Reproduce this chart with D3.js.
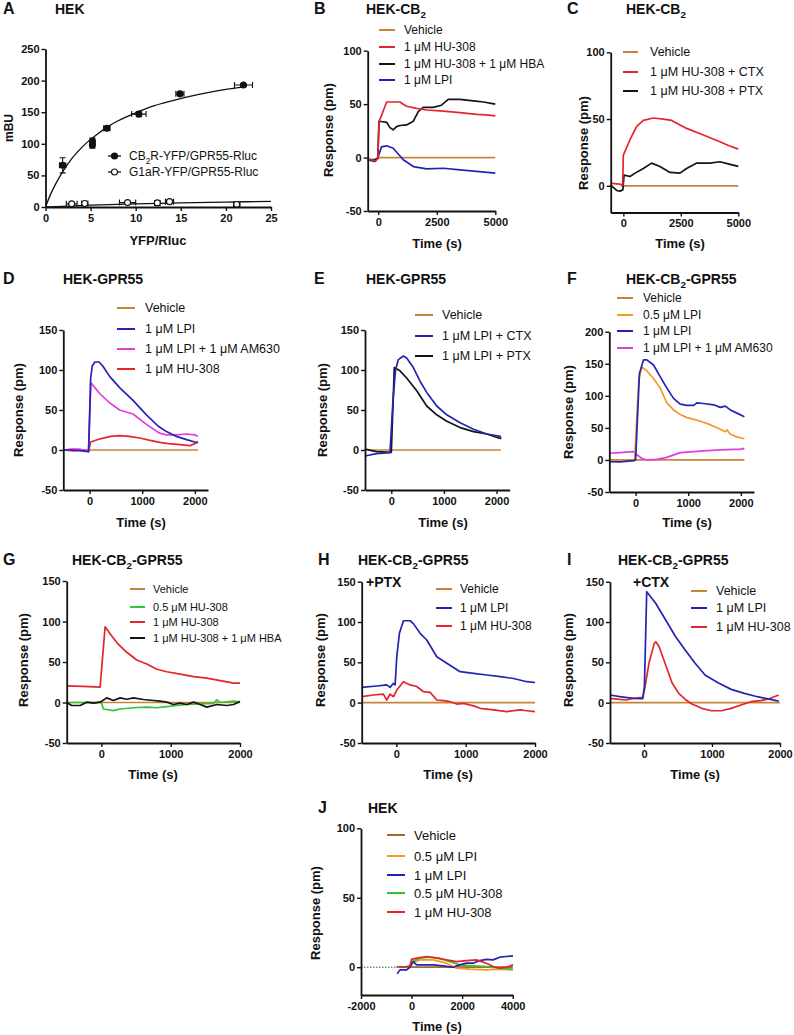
<!DOCTYPE html>
<html><head><meta charset="utf-8">
<script src="https://cdn.jsdelivr.net/npm/d3@7"></script>
<style>body{margin:0;background:#fff} svg{font-family:"Liberation Sans",Arial,sans-serif}</style>
</head><body><svg id="c" width="794" height="1035"></svg>
<script>
// ---------- Panel A data ----------
const aCbX = [1.9, 5.2, 5.2, 6.8, 10.35, 14.9, 21.95];
const aCbY = [66, 104, 98, 124.5, 147, 179, 193];
const aCbXerr = [0.35, 0.25, 0.25, 0.35, 0.8, 0.45, 1.0];
const aCbYerr = [12, 5, 5, 3, 4, 3, 2];
const aG1X = [2.9, 4.35, 9.1, 12.4, 13.75, 21.2];
const aG1Y = [5, 5.5, 7, 6.5, 8.5, 4];
const aG1Xerr = [0.6, 0.35, 0.9, 0.3, 0.45, 0.35];
const aG1Yerr = [1.5, 1.5, 1.5, 1.5, 3, 1.5];
const aCbFitX = [0, 0.5, 1, 2, 3, 4, 5, 6, 7, 8, 10, 12, 14, 16, 18, 20, 22];
const aCbFitY = [0, 18, 33, 58, 78, 94, 107, 118, 128, 136, 149, 160, 168, 175, 181, 186, 190];
const aG1FitX = [0, 5, 10, 15, 20, 25];
const aG1FitY = [0, 3, 5, 6.5, 7.8, 9];
const aXTicks = [0, 5, 10, 15, 20, 25];
const aYTicks = [0, 50, 100, 150, 200, 250];

// ---------- Panel B ----------
const bVeh = [[0,0],[5000,0]];
const bHU = [[-450,-2],[-300,-2],[-100,-3],[-20,-1],[40,34],[150,40],[290,48],[360,52],[640,52],[920,52],[1210,48],[1640,46],[2070,44.5],[2780,43.5],[3490,42],[4200,40.5],[4600,40],[5000,39]];
const bHUHBA = [[-450,-2],[-200,-2],[-20,-1],[30,34],[200,33.5],[360,33],[500,28],[640,26],[780,29],[930,30],[1210,30.5],[1500,34],[1710,43],[1920,47],[2350,47],[2700,49],[2990,54.5],[3490,54.5],[4060,53],[4500,52],[5000,50]];
const bLPI = [[-450,-2],[-300,-3],[-140,-3.7],[0,1],[140,10],[360,11],[640,8.7],[1070,-2],[1500,-8.4],[2070,-10.6],[2780,-10],[3490,-11.5],[4200,-13],[5000,-14.6]];

// ---------- Panel C ----------
const cVeh = [[-100,0],[5000,0]];
const cCTX = [[-550,2],[-300,1.5],[-145,1.2],[-30,0.5],[0,23],[290,34.5],[580,44.5],[870,49],[1300,50.8],[1740,50],[2100,49],[2750,43],[3480,38],[4200,33],[4600,30],[5000,27.5]];
const cPTX = [[-550,0.5],[-290,-3.5],[-145,-4],[-20,-3],[30,8],[290,7],[510,9.5],[870,13],[1230,17],[1590,14.5],[2030,10],[2460,9.5],[2750,13],[3190,17],[3770,17],[4200,18],[4640,16],[5000,14.5]];

// ---------- Panel D ----------
const dVeh = [[0,0],[2060,0]];
const dLPI = [[-500,0],[-300,0],[-150,-1],[-20,-2],[20,90],[50,105],[100,110],[180,110],[250,105],[380,92],[570,78],[825,62],[1080,44],[1300,30],[1460,23],[1650,17],[1840,13],[2000,10],[2060,9.6]];
const dAM = [[-500,0],[-350,1],[-200,1],[-100,0],[-20,0],[25,84],[100,78],[200,70],[380,59],[570,50],[825,45],[1080,32],[1330,21],[1460,19],[1650,19],[1840,20],[2000,19],[2060,17]];
const dHU = [[-500,0],[-300,-1],[-100,0],[-20,-2],[20,10],[63,11],[200,14],[400,17],[571,18],[750,17],[952,15],[1150,12],[1333,9.6],[1500,8],[1714,6.7],[1905,5.4],[2000,8],[2063,10]];

// ---------- Panel E ----------
const eVeh = [[-450,0],[2080,0]];
const eCTX = [[-500,-7.5],[-280,-4.6],[-25,-3.3],[30,60],[80,100],[133,113],[229,117.5],[292,115],[419,103],[546,86],[673,72],[863,55],[1054,44],[1308,34],[1562,26],[1816,20],[2070,17],[2083,14]];
const ePTX = [[-500,1],[-280,-2],[0,-3],[57,103],[165,99],[292,90],[483,74],[673,55],[863,44],[1054,36],[1308,28],[1562,23],[1816,20],[2083,14]];

// ---------- Panel F ----------
const fVeh = [[-500,0],[2067,0]];
const fLPI05 = [[-500,-1],[-20,-1],[60,125],[117,145],[213,139],[340,127],[467,112],[594,89],[721,78],[848,71],[975,66],[1165,62],[1355,57],[1609,48],[1704,44],[1736,47],[1800,40],[1927,36],[2067,33]];
const fLPI1 = [[-500,-2.6],[-296,-3],[-41,-1],[0,0],[73,135],[149,156],[213,156],[340,148],[467,130],[594,112],[721,96],[848,87],[975,85],[1101,85],[1165,89],[1292,88],[1482,86],[1609,82],[1704,84],[1800,78],[1927,73],[2067,67.5]];
const fAM = [[-500,10.4],[-296,11.4],[-41,13],[22,8],[117,2.6],[213,0],[403,1],[594,4],[848,11.4],[1101,13],[1355,14.5],[1609,15.6],[1863,16.6],[1990,16.6],[2038,18],[2067,16.6]];

// ---------- Panel G ----------
const gVeh = [[-500,0],[2000,0]];
const gHU05 = [[-500,0],[-211,0],[0,0],[30,-8],[174,-10],[270,-8],[463,-6.5],[655,-5.7],[800,-6.5],[944,-5],[1089,-3.7],[1233,-2.5],[1426,-1.6],[1619,-1],[1667,3.3],[1715,0],[1907,1.6],[2000,0.8]];
const gHU1 = [[-500,20.5],[-259,20],[-18,19],[54,93.4],[126,85],[222,74],[366,62],[511,52.5],[655,47.5],[800,41],[944,38],[1137,35],[1330,32],[1522,30],[1715,27],[1907,24],[2000,24]];
const gHBA = [[-500,0],[-428,-3.7],[-307,-3.7],[-211,0.4],[-115,-0.8],[-18,0.4],[78,5.7],[174,2.5],[270,5.7],[366,4],[463,5.7],[607,3.7],[752,2.5],[848,1.6],[944,0.4],[1040,-2.5],[1137,-0.8],[1233,-2.5],[1330,0.4],[1426,-2.5],[1522,-5.7],[1667,-2.5],[1811,-3.7],[1907,-2.5],[2000,1.2]];

// ---------- Panel H ----------
const hVeh = [[-500,0],[2000,0]];
const hLPI = [[-500,19],[-283,20.7],[-139,22],[-91,19],[-42,24],[-18,22],[6,57],[44,86],[102,101.6],[198,101.6],[246,98],[343,86],[439,77.7],[583,57],[728,48.8],[920,38.4],[1113,36.4],[1306,34.3],[1498,32.2],[1691,30],[1883,26],[2000,25]];
const hHU = [[-500,7.4],[-331,9.5],[-187,10.7],[-139,3.3],[-91,10.7],[-42,7.4],[6,15.7],[102,26],[198,22],[294,20],[391,13.6],[487,12.8],[583,3.3],[680,2.5],[776,1.2],[872,-1.7],[968,-0.8],[1113,-4],[1209,-7],[1402,-9],[1594,-11],[1787,-9],[1883,-10],[2000,-11]];

// ---------- Panel I ----------
const iVeh = [[-500,0],[2000,0]];
const iLPI = [[-500,9.5],[-356,7.4],[-163,5.4],[-18,5],[6,20],[40,137.6],[78,133.5],[174,123],[319,102.5],[463,82],[608,65],[752,48.8],[897,34.3],[1089,24.8],[1282,16.5],[1475,11.6],[1667,7.4],[1860,4],[1980,2]];
const iHU = [[-500,5.4],[-356,4],[-259,3.3],[-163,5.4],[-18,6.6],[6,15.7],[78,50.8],[151,73.5],[174,75.6],[222,69.4],[319,46.7],[415,24],[511,11.6],[608,4],[704,-1.7],[849,-7],[993,-10],[1137,-10],[1282,-7],[1426,-2.9],[1571,1.2],[1715,2.5],[1860,5.4],[1980,9.5]];

// ---------- Panel J ----------
const jVeh = [[-600,0],[4000,0]];
const jLPI05 = [[-570,0],[-300,0],[-20,0],[0,2.9],[329,5.3],[855,5.3],[1382,2.9],[1776,-0.7],[2303,-1.4],[2961,-1.9],[3487,-1.4],[4013,-1.9]];
const jLPI1 = [[-566,-4.8],[-460,-1.9],[-197,-1.9],[-66,0],[66,4],[197,1.7],[460,1.7],[855,1.7],[1250,1],[1645,0],[1908,1.7],[2171,2.9],[2434,2.9],[2697,4.8],[2961,5.7],[3224,5.3],[3487,7.2],[3750,7.7],[4013,8.1]];
const jHU05 = [[-570,0],[-300,0],[-20,0],[0,4],[329,6.5],[724,7.2],[1118,6.5],[1513,4],[1908,1.7],[2434,1],[2961,0.5],[3487,-0.7],[4013,-1.4]];
const jHU1 = [[-566,0.5],[-329,0],[-66,1],[0,5.7],[197,6.5],[592,7.7],[987,6.5],[1382,5.3],[1776,4],[2171,4.8],[2566,5.3],[2961,2.9],[3224,0.5],[3487,-0.7],[3750,0],[4013,1.7]];

// ---------- colours ----------
const VEH = "#c5843c", RED = "#e3262b", BLUE = "#2424b4", BLK = "#141414",
      MAG = "#e03ee3", ORG = "#f4982a", GRN = "#33c533", JVEH = "#a9692f";
const MU = "\u03bc";

const svg = d3.select("#c");

function addText(g, x, y, segs, opts) {
  const t = g.append("text").attr("x", x).attr("y", y)
    .attr("font-size", opts.size).attr("font-weight", opts.bold ? "bold" : "normal")
    .attr("fill", "#111");
  if (opts.anchor) t.attr("text-anchor", opts.anchor);
  if (opts.rotate) t.attr("transform", `rotate(-90,${x},${y})`);
  if (typeof segs === "string") { t.text(segs); return t; }
  let prevSub = false;
  segs.forEach(s => {
    const sp = t.append("tspan").text(s[0]);
    if (s[1]) { sp.attr("font-size", opts.size * 0.7).attr("dy", opts.size * 0.3); prevSub = true; }
    else if (prevSub) { sp.attr("dy", -opts.size * 0.3); prevSub = false; }
  });
  return t;
}

const fmt = d => String(d);

function axes(g, x, y, xTicks, yTicks, xr, yr) {
  const xa = d3.axisBottom(x).tickValues(xTicks).tickSize(4).tickSizeOuter(0).tickPadding(3).tickFormat(fmt);
  const ya = d3.axisLeft(y).tickValues(yTicks).tickSize(4).tickSizeOuter(0).tickPadding(2).tickFormat(fmt);
  const gx = g.append("g").attr("transform", `translate(0,${yr[0]})`).call(xa);
  const gy = g.append("g").attr("transform", `translate(${xr[0]},0)`).call(ya);
  [gx, gy].forEach(a => {
    a.select(".domain").attr("stroke", "#111").attr("stroke-width", 1.8);
    a.selectAll(".tick line").attr("stroke", "#111").attr("stroke-width", 1.4);
    a.selectAll("text").attr("font-size", 11).attr("font-weight", "bold").attr("fill", "#111")
      .attr("font-family", '"Liberation Sans",Arial,sans-serif');
  });
}

function tracePanel(p) {
  const g = svg.append("g");
  const x = d3.scaleLinear().domain(p.xd).range(p.xr);
  const y = d3.scaleLinear().domain(p.yd).range(p.yr);
  if (p.dotted) {
    g.append("line").attr("x1", x(p.xd[0])).attr("x2", x(p.xd[1])).attr("y1", y(0)).attr("y2", y(0))
      .attr("stroke", "#222").attr("stroke-width", 0.8).attr("stroke-dasharray", "1.5,1.5");
  }
  const line = d3.line().x(d => x(d[0])).y(d => y(d[1]));
  p.series.forEach(s => {
    g.append("path").datum(s.data).attr("d", line).attr("fill", "none")
      .attr("stroke", s.color).attr("stroke-width", 1.7).attr("stroke-linejoin", "round");
  });
  axes(g, x, y, p.xt, p.yt, p.xr, p.yr);
  const L = p.legend;
  p.series.slice().sort((a, b) => a.li - b.li).forEach((s, i) => {
    const yy = L.rows[i];
    g.append("line").attr("x1", L.x1).attr("x2", L.x2).attr("y1", yy).attr("y2", yy)
      .attr("stroke", s.color).attr("stroke-width", 2);
    g.append("text").attr("x", L.tx).attr("y", yy).attr("dy", "0.35em")
      .attr("font-size", L.size).attr("fill", "#111").text(s.label);
  });
  addText(g, p.letter[1], p.letter[2], p.letter[0], { size: 16, bold: true });
  addText(g, p.title[1], p.title[2], p.title[0], { size: 14, bold: true });
  if (p.sub) addText(g, p.sub[1], p.sub[2], p.sub[0], { size: 14, bold: true });
  addText(g, p.ylab[0], p.ylab[1], "Response (pm)", { size: 13, bold: true, anchor: "middle", rotate: true });
  addText(g, p.xlab[0], p.xlab[1], "Time (s)", { size: 13, bold: true, anchor: "middle" });
}

// ---------- Panel A ----------
(function () {
  const g = svg.append("g");
  const x = d3.scaleLinear().domain([0, 25]).range([45.5, 271]);
  const y = d3.scaleLinear().domain([0, 250]).range([207, 49]);
  const line = d3.line().x(d => x(d[0])).y(d => y(d[1])).curve(d3.curveMonotoneX);
  g.append("path").datum(aCbFitX.map((v, i) => [v, aCbFitY[i]])).attr("d", line)
    .attr("fill", "none").attr("stroke", "#111").attr("stroke-width", 1.3);
  g.append("path").datum(aG1FitX.map((v, i) => [v, aG1FitY[i]])).attr("d", line)
    .attr("fill", "none").attr("stroke", "#111").attr("stroke-width", 1.3);
  function pts(X, Y, XE, YE, filled) {
    X.forEach((xv, i) => {
      const cx = x(xv), cy = y(Y[i]);
      const x0 = x(xv - XE[i]), x1 = x(xv + XE[i]), y0 = y(Y[i] - YE[i]), y1 = y(Y[i] + YE[i]);
      g.append("path").attr("d", `M${x0},${cy}H${x1}M${x0},${cy - 3}V${cy + 3}M${x1},${cy - 3}V${cy + 3}M${cx},${y0}V${y1}M${cx - 3},${y0}H${cx + 3}M${cx - 3},${y1}H${cx + 3}`)
        .attr("stroke", "#111").attr("stroke-width", 1.1).attr("fill", "none");
      g.append("circle").attr("cx", cx).attr("cy", cy).attr("r", 3)
        .attr("fill", filled ? "#111" : "#fff").attr("stroke", "#111").attr("stroke-width", 1.1);
    });
  }
  pts(aCbX, aCbY, aCbXerr, aCbYerr, true);
  pts(aG1X, aG1Y, aG1Xerr, aG1Yerr, false);
  axes(g, x, y, aXTicks, aYTicks, [45.5, 271], [207, 49]);
  [[160, true, [["CB", false], ["2", true], ["R-YFP/GPR55-Rluc", false]]],
   [176, false, "G1aR-YFP/GPR55-Rluc"]].forEach(r => {
    g.append("line").attr("x1", 108).attr("x2", 121).attr("y1", r[0] - 4).attr("y2", r[0] - 4).attr("stroke", "#111").attr("stroke-width", 1.3);
    g.append("circle").attr("cx", 114.5).attr("cy", r[0] - 4).attr("r", 3).attr("fill", r[1] ? "#111" : "#fff").attr("stroke", "#111").attr("stroke-width", 1.1);
    addText(g, 129, r[0], r[2], { size: 12 });
  });
  addText(g, 3, 14, "A", { size: 16, bold: true });
  addText(g, 55, 14, "HEK", { size: 14, bold: true });
  addText(g, 13, 128, "mBU", { size: 12, bold: true, anchor: "middle", rotate: true });
  addText(g, 158, 245, "YFP/Rluc", { size: 13, bold: true, anchor: "middle" });
})();

const CB2 = [["HEK-CB", false], ["2", true]];
const CB2G = [["HEK-CB", false], ["2", true], ["-GPR55", false]];

tracePanel({
  xd: [-450, 5000], xr: [367.7, 495.3], yd: [-50, 100], yr: [211, 50.7],
  xt: [0, 2500, 5000], yt: [-50, 0, 50, 100],
  series: [
    { data: bVeh, color: VEH, label: "Vehicle", li: 0 },
    { data: bLPI, color: BLUE, label: `1 ${MU}M LPI`, li: 3 },
    { data: bHUHBA, color: BLK, label: `1 ${MU}M HU-308 + 1 ${MU}M HBA`, li: 2 },
    { data: bHU, color: RED, label: `1 ${MU}M HU-308`, li: 1 }],
  legend: { x1: 379, x2: 395, tx: 404, rows: [30, 47, 64, 80], size: 12 },
  letter: ["B", 314, 14], title: [CB2, 366, 14],
  ylab: [333, 130], xlab: [437, 248]
});

tracePanel({
  xd: [-550, 5000], xr: [610.7, 738.3], yd: [-20, 100], yr: [212.5, 52.3],
  xt: [0, 2500, 5000], yt: [0, 50, 100],
  series: [
    { data: cVeh, color: VEH, label: "Vehicle", li: 0 },
    { data: cPTX, color: BLK, label: `1 ${MU}M HU-308 + PTX`, li: 2 },
    { data: cCTX, color: RED, label: `1 ${MU}M HU-308 + CTX`, li: 1 }],
  legend: { x1: 623, x2: 638, tx: 650, rows: [52, 72, 91], size: 12.5 },
  letter: ["C", 567, 14], title: [CB2, 626, 14],
  ylab: [588, 143], xlab: [680, 248]
});

tracePanel({
  xd: [-500, 2250], xr: [63.3, 208], yd: [-50, 150], yr: [490, 330],
  xt: [0, 1000, 2000], yt: [-50, 0, 50, 100, 150],
  series: [
    { data: dVeh, color: VEH, label: "Vehicle", li: 0 },
    { data: dHU, color: RED, label: `1 ${MU}M HU-308`, li: 3 },
    { data: dAM, color: MAG, label: `1 ${MU}M LPI + 1 ${MU}M AM630`, li: 2 },
    { data: dLPI, color: BLUE, label: `1 ${MU}M LPI`, li: 1 }],
  legend: { x1: 117, x2: 135, tx: 145, rows: [308, 329, 349, 369], size: 12.5 },
  letter: ["D", 3, 284], title: ["HEK-GPR55", 63, 284],
  ylab: [23, 410], xlab: [141, 527]
});

tracePanel({
  xd: [-500, 2250], xr: [365, 509.7], yd: [-50, 150], yr: [490, 330],
  xt: [0, 1000, 2000], yt: [-50, 0, 50, 100, 150],
  series: [
    { data: eVeh, color: VEH, label: "Vehicle", li: 0 },
    { data: ePTX, color: BLK, label: `1 ${MU}M LPI + PTX`, li: 2 },
    { data: eCTX, color: BLUE, label: `1 ${MU}M LPI + CTX`, li: 1 }],
  legend: { x1: 415, x2: 433, tx: 442, rows: [315, 336, 356], size: 12.5 },
  letter: ["E", 314, 284], title: ["HEK-GPR55", 366, 284],
  ylab: [327, 410], xlab: [443, 527]
});

tracePanel({
  xd: [-500, 2250], xr: [609.3, 754], yd: [-50, 200], yr: [492, 331.7],
  xt: [0, 1000, 2000], yt: [-50, 0, 50, 100, 150, 200],
  series: [
    { data: fVeh, color: VEH, label: "Vehicle", li: 0 },
    { data: fAM, color: MAG, label: `1 ${MU}M LPI + 1 ${MU}M AM630`, li: 3 },
    { data: fLPI05, color: ORG, label: `0.5 ${MU}M LPI`, li: 1 },
    { data: fLPI1, color: BLUE, label: `1 ${MU}M LPI`, li: 2 }],
  legend: { x1: 617, x2: 633, tx: 643, rows: [298, 315, 331, 348], size: 12 },
  letter: ["F", 567, 284], title: [CB2G, 626, 284],
  ylab: [573, 412], xlab: [687, 527]
});

tracePanel({
  xd: [-500, 2000], xr: [66.7, 240], yd: [-50, 150], yr: [743, 581],
  xt: [0, 1000, 2000], yt: [-50, 0, 50, 100, 150],
  series: [
    { data: gVeh, color: VEH, label: "Vehicle", li: 0 },
    { data: gHU05, color: GRN, label: `0.5 ${MU}M HU-308`, li: 1 },
    { data: gHBA, color: BLK, label: `1 ${MU}M HU-308 + 1 ${MU}M HBA`, li: 3 },
    { data: gHU1, color: RED, label: `1 ${MU}M HU-308`, li: 2 }],
  legend: { x1: 130, x2: 145, tx: 153, rows: [589, 607, 622, 638], size: 11 },
  letter: ["G", 3, 565], title: [CB2G, 72, 565],
  ylab: [28, 660], xlab: [153, 779]
});

tracePanel({
  xd: [-500, 2000], xr: [361.7, 535], yd: [-50, 150], yr: [743, 581.7],
  xt: [0, 1000, 2000], yt: [-50, 0, 50, 100, 150],
  series: [
    { data: hVeh, color: VEH, label: "Vehicle", li: 0 },
    { data: hHU, color: RED, label: `1 ${MU}M HU-308`, li: 2 },
    { data: hLPI, color: BLUE, label: `1 ${MU}M LPI`, li: 1 }],
  legend: { x1: 436, x2: 452, tx: 460, rows: [589, 608, 626], size: 12 },
  letter: ["H", 318, 565], title: [CB2G, 358, 565], sub: ["+PTX", 366, 587],
  ylab: [325, 660], xlab: [448, 779]
});

tracePanel({
  xd: [-500, 2000], xr: [610, 780], yd: [-50, 150], yr: [743, 581.7],
  xt: [0, 1000, 2000], yt: [-50, 0, 50, 100, 150],
  series: [
    { data: iVeh, color: VEH, label: "Vehicle", li: 0 },
    { data: iHU, color: RED, label: `1 ${MU}M HU-308`, li: 2 },
    { data: iLPI, color: BLUE, label: `1 ${MU}M LPI`, li: 1 }],
  legend: { x1: 691, x2: 707, tx: 716, rows: [591, 608, 627], size: 12.5 },
  letter: ["I", 567, 565], title: [CB2G, 618, 565], sub: ["+CTX", 633, 587],
  ylab: [573, 660], xlab: [695, 779]
});

tracePanel({
  xd: [-2000, 4000], xr: [361, 512.7], yd: [-20, 100], yr: [995, 828.3],
  xt: [-2000, 0, 2000, 4000], yt: [0, 50, 100], dotted: true,
  series: [
    { data: jVeh, color: JVEH, label: "Vehicle", li: 0 },
    { data: jLPI05, color: ORG, label: `0.5 ${MU}M LPI`, li: 1 },
    { data: jHU05, color: GRN, label: `0.5 ${MU}M HU-308`, li: 3 },
    { data: jLPI1, color: BLUE, label: `1 ${MU}M LPI`, li: 2 },
    { data: jHU1, color: RED, label: `1 ${MU}M HU-308`, li: 4 }],
  legend: { x1: 387, x2: 405, tx: 414, rows: [835, 856, 875, 893, 912], size: 13 },
  letter: ["J", 318, 813], title: ["HEK", 368, 813],
  ylab: [320, 913], xlab: [437, 1031]
});
</script></body></html>
